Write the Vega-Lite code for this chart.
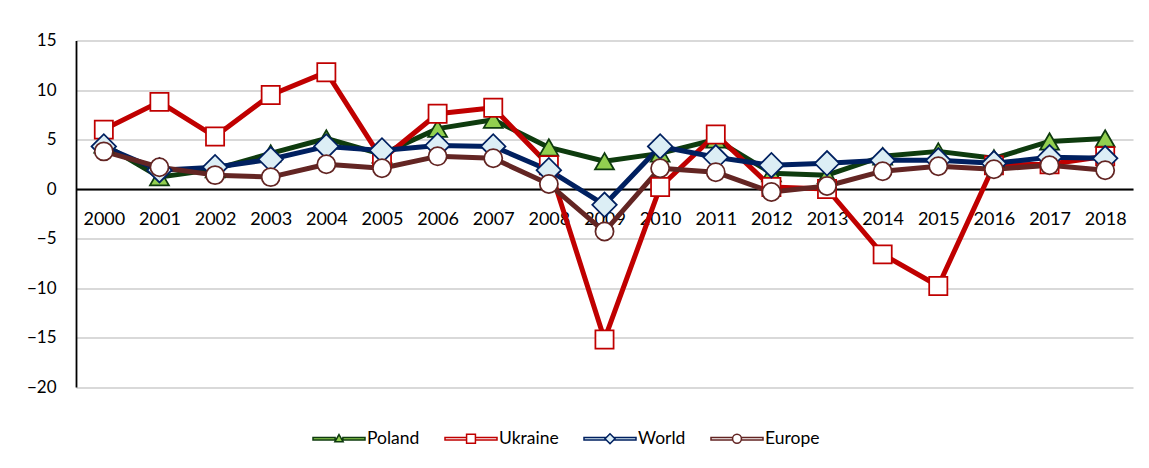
{
  "$schema": "https://vega.github.io/schema/vega-lite/v6.json",
  "width": 1057,
  "height": 346.5,
  "autosize": "none",
  "padding": {"left": 76, "top": 40.5, "right": 16, "bottom": 81},
  "background": "white",
  "config": {
    "view": {"stroke": null},
    "font": "Lato",
    "axis": {"labelFont": "Lato", "labelColor": "#000000"},
    "legend": {"labelFont": "Lato"}
  },
  "data": {
    "values": [
      {"year": "2000", "series": "Poland", "value": 4.5},
      {"year": "2001", "series": "Poland", "value": 1.2},
      {"year": "2002", "series": "Poland", "value": 2.0},
      {"year": "2003", "series": "Poland", "value": 3.6},
      {"year": "2004", "series": "Poland", "value": 5.1},
      {"year": "2005", "series": "Poland", "value": 3.5},
      {"year": "2006", "series": "Poland", "value": 6.1},
      {"year": "2007", "series": "Poland", "value": 7.0},
      {"year": "2008", "series": "Poland", "value": 4.2},
      {"year": "2009", "series": "Poland", "value": 2.8},
      {"year": "2010", "series": "Poland", "value": 3.6},
      {"year": "2011", "series": "Poland", "value": 5.0},
      {"year": "2012", "series": "Poland", "value": 1.6},
      {"year": "2013", "series": "Poland", "value": 1.4},
      {"year": "2014", "series": "Poland", "value": 3.3},
      {"year": "2015", "series": "Poland", "value": 3.8},
      {"year": "2016", "series": "Poland", "value": 3.1},
      {"year": "2017", "series": "Poland", "value": 4.8},
      {"year": "2018", "series": "Poland", "value": 5.1},
      {"year": "2000", "series": "Ukraine", "value": 6.0},
      {"year": "2001", "series": "Ukraine", "value": 8.8},
      {"year": "2002", "series": "Ukraine", "value": 5.3},
      {"year": "2003", "series": "Ukraine", "value": 9.5},
      {"year": "2004", "series": "Ukraine", "value": 11.8},
      {"year": "2005", "series": "Ukraine", "value": 3.0},
      {"year": "2006", "series": "Ukraine", "value": 7.6},
      {"year": "2007", "series": "Ukraine", "value": 8.2},
      {"year": "2008", "series": "Ukraine", "value": 2.4},
      {"year": "2009", "series": "Ukraine", "value": -15.2},
      {"year": "2010", "series": "Ukraine", "value": 0.2},
      {"year": "2011", "series": "Ukraine", "value": 5.5},
      {"year": "2012", "series": "Ukraine", "value": 0.2},
      {"year": "2013", "series": "Ukraine", "value": 0.0},
      {"year": "2014", "series": "Ukraine", "value": -6.6},
      {"year": "2015", "series": "Ukraine", "value": -9.8},
      {"year": "2016", "series": "Ukraine", "value": 2.4},
      {"year": "2017", "series": "Ukraine", "value": 2.5},
      {"year": "2018", "series": "Ukraine", "value": 3.3},
      {"year": "2000", "series": "World", "value": 4.3},
      {"year": "2001", "series": "World", "value": 1.9},
      {"year": "2002", "series": "World", "value": 2.2},
      {"year": "2003", "series": "World", "value": 3.0},
      {"year": "2004", "series": "World", "value": 4.3},
      {"year": "2005", "series": "World", "value": 3.9},
      {"year": "2006", "series": "World", "value": 4.4},
      {"year": "2007", "series": "World", "value": 4.3},
      {"year": "2008", "series": "World", "value": 1.9},
      {"year": "2009", "series": "World", "value": -1.6},
      {"year": "2010", "series": "World", "value": 4.3},
      {"year": "2011", "series": "World", "value": 3.2},
      {"year": "2012", "series": "World", "value": 2.4},
      {"year": "2013", "series": "World", "value": 2.6},
      {"year": "2014", "series": "World", "value": 2.9},
      {"year": "2015", "series": "World", "value": 2.9},
      {"year": "2016", "series": "World", "value": 2.6},
      {"year": "2017", "series": "World", "value": 3.2},
      {"year": "2018", "series": "World", "value": 3.1},
      {"year": "2000", "series": "Europe", "value": 3.8},
      {"year": "2001", "series": "Europe", "value": 2.2},
      {"year": "2002", "series": "Europe", "value": 1.4},
      {"year": "2003", "series": "Europe", "value": 1.2},
      {"year": "2004", "series": "Europe", "value": 2.5},
      {"year": "2005", "series": "Europe", "value": 2.1},
      {"year": "2006", "series": "Europe", "value": 3.3},
      {"year": "2007", "series": "Europe", "value": 3.1},
      {"year": "2008", "series": "Europe", "value": 0.5},
      {"year": "2009", "series": "Europe", "value": -4.3},
      {"year": "2010", "series": "Europe", "value": 2.1},
      {"year": "2011", "series": "Europe", "value": 1.7},
      {"year": "2012", "series": "Europe", "value": -0.3},
      {"year": "2013", "series": "Europe", "value": 0.3},
      {"year": "2014", "series": "Europe", "value": 1.8},
      {"year": "2015", "series": "Europe", "value": 2.3},
      {"year": "2016", "series": "Europe", "value": 2.0},
      {"year": "2017", "series": "Europe", "value": 2.4},
      {"year": "2018", "series": "Europe", "value": 1.9}
    ]
  },
  "encoding": {
    "x": {
      "field": "year",
      "type": "ordinal",
      "scale": {"type": "point", "padding": 0.5},
      "axis": {
        "title": null,
        "orient": "bottom",
        "offset": -198,
        "labelAngle": 0,
        "ticks": false,
        "labelPadding": 21,
        "labelFontSize": 18,
        "domainColor": "#000000",
        "domainWidth": 1.8,
        "grid": false
      }
    },
    "y": {
      "field": "value",
      "type": "quantitative",
      "scale": {"domain": [-20, 15], "nice": false, "zero": false},
      "axis": {
        "title": null,
        "values": [-20, -15, -10, -5, 0, 5, 10, 15],
        "ticks": false,
        "labelPadding": 20,
        "labelFontSize": 17,
        "domainColor": "#000000",
        "domainWidth": 1.8,
        "grid": true,
        "gridColor": "#d9d9d9",
        "gridWidth": 2
      }
    }
  },
  "layer": [
    {
      "mark": {"type": "line", "strokeWidth": 5, "strokeJoin": "round", "strokeCap": "round"},
      "encoding": {
        "color": {
          "field": "series",
          "type": "nominal",
          "scale": {
            "domain": ["Poland", "Ukraine", "World", "Europe"],
            "range": ["#0E3B0E", "#C00000", "#002060", "#632523"]
          },
          "legend": {
            "title": null,
            "orient": "none",
            "legendX": 236,
            "legendY": 371,
            "direction": "horizontal",
            "columns": 4,
            "padding": 0,
            "symbolSize": 2704,
            "symbolStrokeWidth": 1.5,
            "labelOffset": 1,
            "columnPadding": 22,
            "labelFontSize": 17.5,
            "labelColor": "#000000",
            "encode": {
              "symbols": {
                "update": {
                  "shape": {"signal": "datum.value === 'Poland' ? 'M-1,-0.045H-0.15V0.045H-1ZM0.15,-0.045H1V0.045H0.15ZM0,-0.16L0.16,0.12H-0.16Z' : datum.value === 'Ukraine' ? 'M-1,-0.045H-0.17V0.045H-1ZM0.17,-0.045H1V0.045H0.17ZM-0.17,-0.17H0.17V0.17H-0.17Z' : datum.value === 'World' ? 'M-1,-0.045H-0.19V0.045H-1ZM0.19,-0.045H1V0.045H0.19ZM0,-0.19L0.19,0L0,0.19L-0.19,0Z' : 'M-1,-0.045H-0.17V0.045H-1ZM0.17,-0.045H1V0.045H0.17ZM-0.17,0A0.17,0.17 0 1,0 0.17,0A0.17,0.17 0 1,0 -0.17,0Z'"},
                  "size": {"value": 2704},
                  "fill": {"signal": "datum.value === 'Poland' ? '#92D050' : datum.value === 'World' ? '#DCEEF5' : '#FFFFFF'"},
                  "stroke": {"signal": "datum.value === 'Poland' ? '#0E3B0E' : datum.value === 'Ukraine' ? '#C00000' : datum.value === 'World' ? '#002060' : '#632523'"},
                  "strokeWidth": {"value": 1.5},
                  "opacity": {"value": 1}
                }
              }
            }
          }
        }
      }
    },
    {
      "transform": [{"filter": "datum.series === 'Poland'"}],
      "mark": {"type": "point", "shape": "triangle-up", "size": 360, "fill": "#92D050", "stroke": "#0E3B0E", "strokeWidth": 1.75, "opacity": 1, "filled": false}
    },
    {
      "transform": [{"filter": "datum.series === 'Ukraine'"}],
      "mark": {"type": "point", "shape": "square", "size": 330, "fill": "#FFFFFF", "stroke": "#C00000", "strokeWidth": 1.75, "opacity": 1, "filled": false}
    },
    {
      "transform": [{"filter": "datum.series === 'World'"}],
      "mark": {"type": "point", "shape": "diamond", "size": 600, "fill": "#DCEEF5", "stroke": "#002060", "strokeWidth": 1.75, "opacity": 1, "filled": false}
    },
    {
      "transform": [{"filter": "datum.series === 'Europe'"}],
      "mark": {"type": "point", "shape": "circle", "size": 330, "fill": "#FFFFFF", "stroke": "#632523", "strokeWidth": 1.75, "opacity": 1, "filled": false}
    }
  ]
}
